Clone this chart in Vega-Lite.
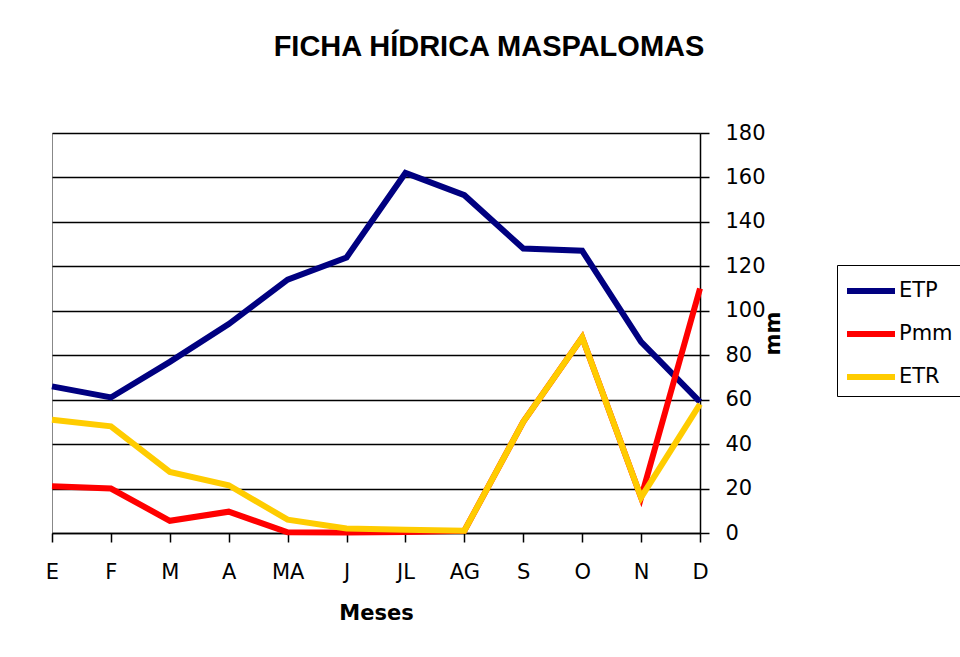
{
  "$schema": "https://vega.github.io/schema/vega-lite/v6.json",
  "width": 648,
  "height": 400,
  "autosize": "none",
  "padding": {"left": 52, "top": 133, "right": 260, "bottom": 124},
  "background": "white",
  "title": {
    "text": "FICHA HÍDRICA MASPALOMAS",
    "anchor": "middle",
    "frame": "group",
    "dx": 113,
    "offset": 31,
    "baseline": "bottom",
    "font": "Liberation Sans Narrow, Liberation Sans, Arial",
    "fontSize": 29,
    "fontWeight": "bold",
    "color": "black"
  },
  "data": {
    "values": [
      {"mes": "E", "serie": "ETP", "mm": 66},
      {"mes": "F", "serie": "ETP", "mm": 61},
      {"mes": "M", "serie": "ETP", "mm": 77},
      {"mes": "A", "serie": "ETP", "mm": 94},
      {"mes": "MA", "serie": "ETP", "mm": 114},
      {"mes": "J", "serie": "ETP", "mm": 124},
      {"mes": "JL", "serie": "ETP", "mm": 162},
      {"mes": "AG", "serie": "ETP", "mm": 152},
      {"mes": "S", "serie": "ETP", "mm": 128},
      {"mes": "O", "serie": "ETP", "mm": 127},
      {"mes": "N", "serie": "ETP", "mm": 86},
      {"mes": "D", "serie": "ETP", "mm": 59},
      {"mes": "E", "serie": "Pmm", "mm": 21},
      {"mes": "F", "serie": "Pmm", "mm": 20},
      {"mes": "M", "serie": "Pmm", "mm": 5.5},
      {"mes": "A", "serie": "Pmm", "mm": 9.6},
      {"mes": "MA", "serie": "Pmm", "mm": 0.3},
      {"mes": "J", "serie": "Pmm", "mm": 0.2},
      {"mes": "JL", "serie": "Pmm", "mm": 0.5},
      {"mes": "AG", "serie": "Pmm", "mm": 1},
      {"mes": "S", "serie": "Pmm", "mm": 50},
      {"mes": "O", "serie": "Pmm", "mm": 88},
      {"mes": "N", "serie": "Pmm", "mm": 16},
      {"mes": "D", "serie": "Pmm", "mm": 110},
      {"mes": "E", "serie": "ETR", "mm": 51},
      {"mes": "F", "serie": "ETR", "mm": 48},
      {"mes": "M", "serie": "ETR", "mm": 27.5},
      {"mes": "A", "serie": "ETR", "mm": 21.5},
      {"mes": "MA", "serie": "ETR", "mm": 6},
      {"mes": "J", "serie": "ETR", "mm": 2},
      {"mes": "JL", "serie": "ETR", "mm": 1.5},
      {"mes": "AG", "serie": "ETR", "mm": 1},
      {"mes": "S", "serie": "ETR", "mm": 50},
      {"mes": "O", "serie": "ETR", "mm": 88},
      {"mes": "N", "serie": "ETR", "mm": 16},
      {"mes": "D", "serie": "ETR", "mm": 58}
    ]
  },
  "mark": {"type": "line", "strokeWidth": 6, "strokeJoin": "miter", "clip": false},
  "encoding": {
    "x": {
      "field": "mes",
      "type": "ordinal",
      "sort": ["E", "F", "M", "A", "MA", "J", "JL", "AG", "S", "O", "N", "D"],
      "scale": {"type": "point", "padding": 0},
      "axis": {
        "title": "Meses",
        "labelAngle": 0,
        "grid": false,
        "domainColor": "black",
        "domainWidth": 1.5,
        "tickColor": "black",
        "tickWidth": 1.5,
        "tickSize": 9,
        "labelFont": "DejaVu Sans",
        "labelFontSize": 21,
        "labelColor": "black",
        "labelPadding": 19,
        "titleFont": "DejaVu Sans",
        "titleFontSize": 21,
        "titleFontWeight": "bold",
        "titleColor": "black",
        "titlePadding": 20
      }
    },
    "y": {
      "field": "mm",
      "type": "quantitative",
      "scale": {"domain": [0, 180], "nice": false},
      "axis": {
        "orient": "right",
        "title": "mm",
        "titleAngle": 270,
        "values": [0, 20, 40, 60, 80, 100, 120, 140, 160, 180],
        "grid": true,
        "gridColor": "black",
        "gridWidth": 1.5,
        "gridOpacity": 1,
        "domainColor": "black",
        "domainWidth": 1.5,
        "tickColor": "black",
        "tickWidth": 1.5,
        "tickSize": 9,
        "labelFont": "DejaVu Sans",
        "labelFontSize": 21,
        "labelColor": "black",
        "labelPadding": 16,
        "titleFont": "DejaVu Sans",
        "titleFontSize": 21,
        "titleFontWeight": "bold",
        "titleColor": "black",
        "titlePadding": 18
      }
    },
    "color": {
      "field": "serie",
      "type": "nominal",
      "sort": ["ETP", "Pmm", "ETR"],
      "scale": {"domain": ["ETP", "Pmm", "ETR"], "range": ["#000080", "#FF0000", "#FFCC00"]},
      "legend": {
        "title": null,
        "orient": "none",
        "legendX": 785,
        "legendY": 132,
        "symbolType": "M-1,0H2",
        "symbolSize": 1024,
        "symbolStrokeWidth": 6,
        "labelFont": "DejaVu Sans",
        "labelFontSize": 21,
        "labelColor": "black",
        "labelOffset": 17,
        "rowPadding": 12,
        "strokeColor": "black",
        "padding": 7,
        "fillColor": "white"
      }
    }
  },
  "config": {
    "view": {"stroke": "#888888", "strokeWidth": 1}
  }
}
